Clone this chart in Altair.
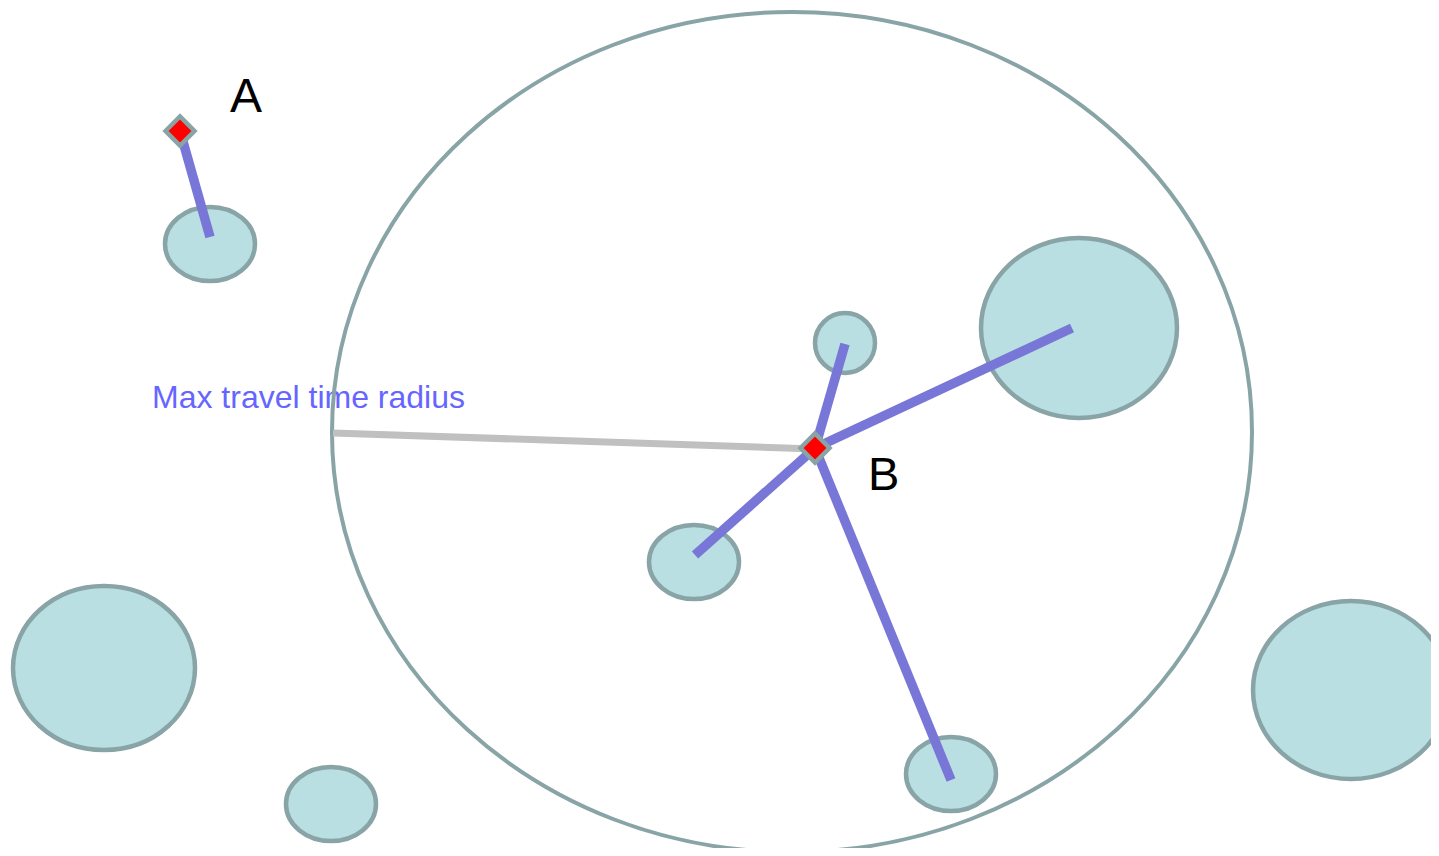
import altair as alt
import pandas as pd

# ---- data (screen-pixel coordinate space) ----
zone_cx = [210, 845, 1079, 694, 951, 104, 331, 1351]
zone_cy = [244, 343, 328, 562, 774, 668, 804, 690]
zone_rx = [45, 30, 98, 45, 45, 91, 45, 98]
zone_ry = [37, 30, 90, 37, 37, 82, 37, 89]

radius_cx = [792]
radius_cy = [432]
radius_rx = [460]
radius_ry = [420]

stop_name = ["A", "B"]
stop_x = [180, 815]
stop_y = [131, 448]

link_x1 = [180, 815, 815, 815, 815]
link_y1 = [131, 448, 448, 448, 448]
link_x2 = [210, 845, 1072, 695, 951]
link_y2 = [237, 344, 328, 555, 780]

radius_line_x1 = [333]
radius_line_y1 = [433]
radius_line_x2 = [815]
radius_line_y2 = [449]

label_text = ["A", "B", "Max travel time radius"]
label_x = [230, 868, 152]
label_y = [112, 490, 408]
label_size = [48, 47, 32]
label_color = ["#000000", "#000000", "#6666ff"]

FILL = "#b9dfe3"
EDGE = "#88a4a6"
PURPLE = "#7876d6"


def ellipse_path(rx, ry):
    m = max(rx, ry)
    a, b = rx / m, ry / m
    k = 0.5523
    return (f"M {-a} 0 C {-a} {-k*b} {-k*a} {-b} 0 {-b} "
            f"C {k*a} {-b} {a} {-k*b} {a} 0 "
            f"C {a} {k*b} {k*a} {b} 0 {b} "
            f"C {-k*a} {b} {-a} {k*b} {-a} 0 Z")


def ellipse_frame(cx, cy, rx, ry):
    return pd.DataFrame({
        "x": cx, "y": cy,
        "path": [ellipse_path(a, b) for a, b in zip(rx, ry)],
        "size": [(2 * max(a, b)) ** 2 for a, b in zip(rx, ry)],
    })


zones = ellipse_frame(zone_cx, zone_cy, zone_rx, zone_ry)
radius = ellipse_frame(radius_cx, radius_cy, radius_rx, radius_ry)
stops = pd.DataFrame({"name": stop_name, "x": stop_x, "y": stop_y})
links = pd.DataFrame({"x": link_x1, "y": link_y1, "x2": link_x2, "y2": link_y2})
rline = pd.DataFrame({"x": radius_line_x1, "y": radius_line_y1,
                      "x2": radius_line_x2, "y2": radius_line_y2})
labels = pd.DataFrame({"text": label_text, "x": label_x, "y": label_y,
                       "size": label_size, "color": label_color})

W, H = 1423, 840
xs = alt.Scale(domain=[8, 8 + W], nice=False, zero=False)
ys = alt.Scale(domain=[8, 8 + H], nice=False, zero=False, reverse=True)
X = lambda: alt.X("x:Q", scale=xs, axis=None)
Y = lambda: alt.Y("y:Q", scale=ys, axis=None)

text_layer = alt.Chart(labels).mark_text(
    align="left", baseline="alphabetic", font="Liberation Sans"
).encode(
    x=X(), y=Y(), text="text:N",
    size=alt.Size("size:Q", scale=None),
    color=alt.Color("color:N", scale=None),
)

zone_layer = alt.Chart(zones).mark_point(
    filled=True, fill=FILL, stroke=EDGE, strokeWidth=4.5, opacity=1,
    fillOpacity=1, strokeOpacity=1
).encode(
    x=X(), y=Y(),
    shape=alt.Shape("path:N", scale=None),
    size=alt.Size("size:Q", scale=None),
)

radius_layer = alt.Chart(radius).mark_point(
    filled=False, fill="transparent", stroke=EDGE,
    strokeWidth=4, opacity=1
).encode(
    x=X(), y=Y(),
    shape=alt.Shape("path:N", scale=None),
    size=alt.Size("size:Q", scale=None),
)

rline_layer = alt.Chart(rline).mark_rule(
    color="#c0c0c0", strokeWidth=7, strokeCap="butt"
).encode(x=X(), y=Y(), x2="x2:Q", y2="y2:Q")

link_layer = alt.Chart(links).mark_rule(
    color=PURPLE, strokeWidth=9.5, strokeCap="butt"
).encode(x=X(), y=Y(), x2="x2:Q", y2="y2:Q")

stop_layer = alt.Chart(stops).mark_point(
    shape="diamond", filled=True, fill="#ff0000", stroke=EDGE,
    strokeWidth=4.5, size=841, opacity=1
).encode(x=X(), y=Y())

label_ab = text_layer.transform_filter("datum.text != 'Max travel time radius'")
label_max = text_layer.transform_filter("datum.text == 'Max travel time radius'")

chart = alt.layer(
    label_max, zone_layer, radius_layer, rline_layer, link_layer, stop_layer, label_ab
).properties(
    width=W, height=H, padding=0,
    autosize=alt.AutoSizeParams(type="none"),
).configure_view(stroke=None)

chart.save("out.html", embed_options={"renderer": "svg", "actions": False})
